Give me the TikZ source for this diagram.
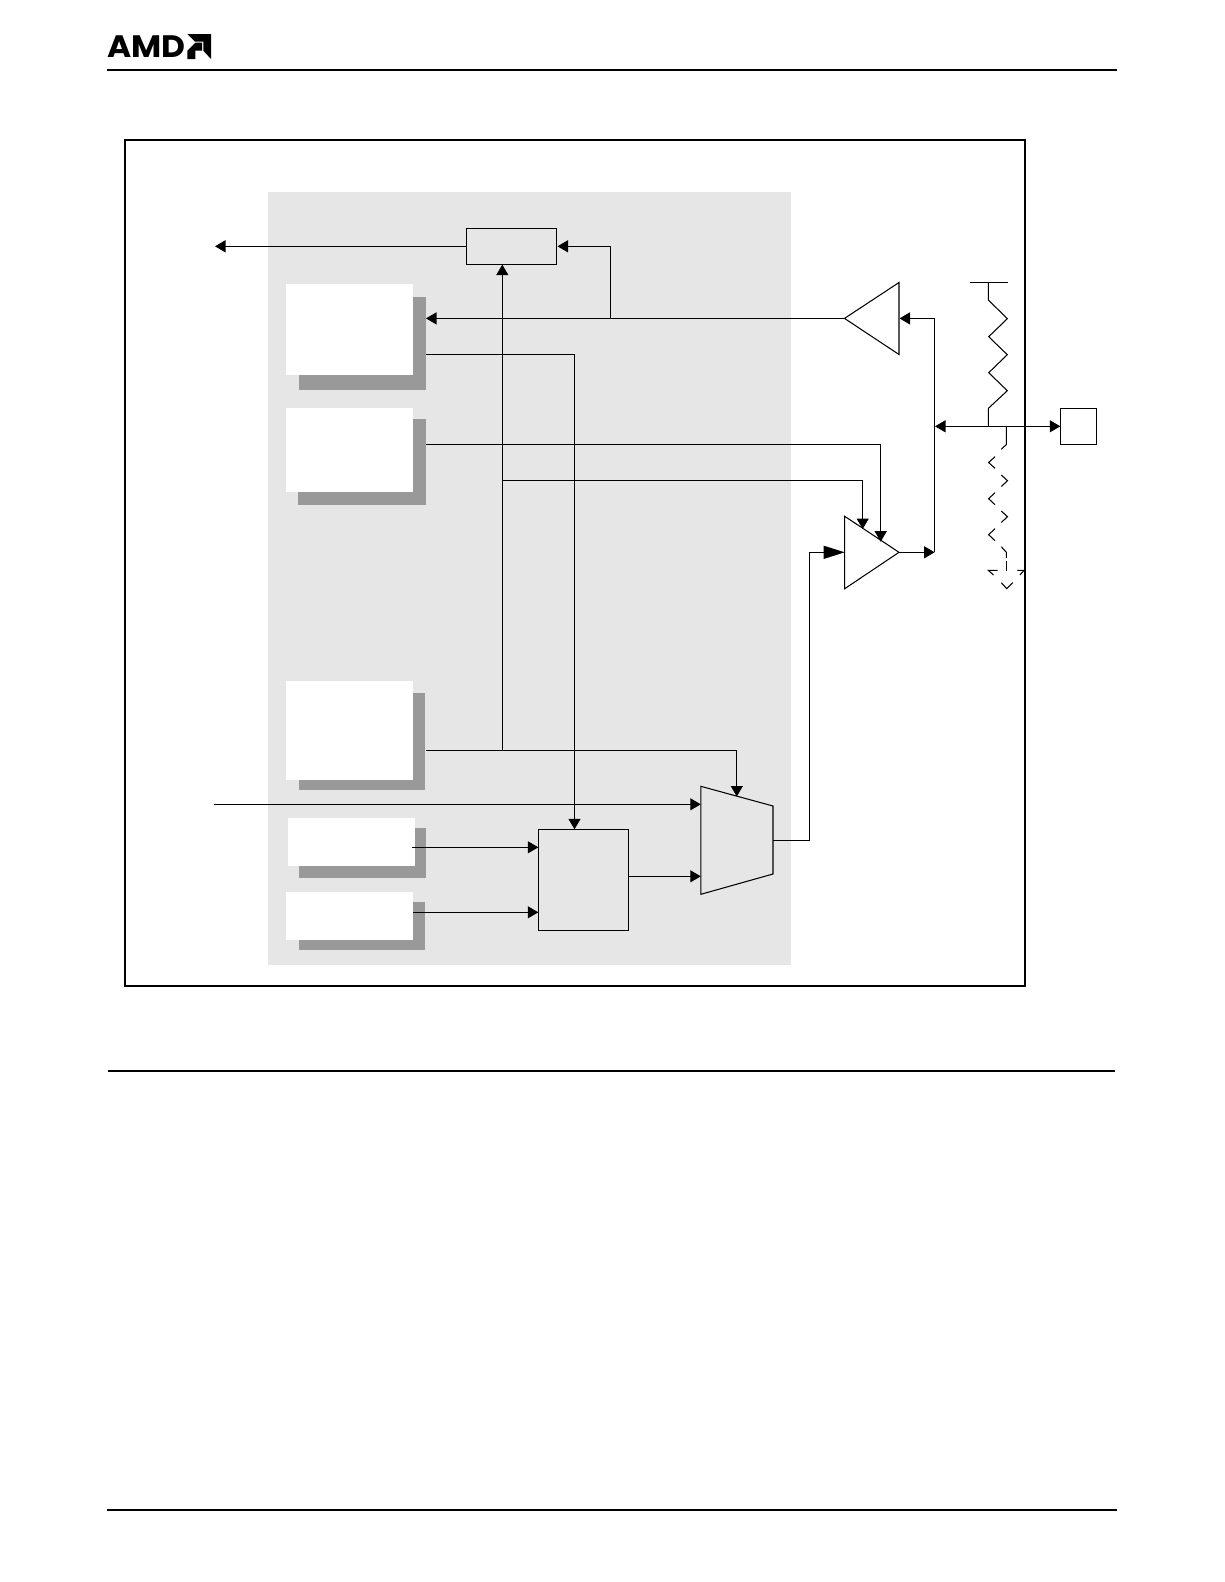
\documentclass[tikz,border=0pt]{standalone}
\usepackage{fontspec}
\setmainfont{Liberation Sans}
\newfontfamily\logofont[BoldFont={Poppins Bold}]{Poppins}
\usetikzlibrary{arrows.meta}
\definecolor{panelgray}{RGB}{230,230,230}
\definecolor{shadowgray}{RGB}{153,153,153}
\tikzset{
  rule/.style={draw=black,line width=2pt},
  frame/.style={draw=black,line width=2pt},
  wire/.style={draw=black,line width=1.05pt},
  arr/.style={wire,-{Triangle[length=10.5pt,width=12pt]}},
  biarr/.style={wire,{Triangle[length=10.5pt,width=12pt]}-{Triangle[length=10.5pt,width=12pt]}},
  bigarr/.style={wire,-{Triangle[length=21pt,width=13pt]}},
  boxed/.style={draw=black,line width=1.05pt,inner sep=0pt,outer sep=0pt},
}
\begin{document}
\begin{tikzpicture}[x=1pt,y=-1pt]
\useasboundingbox (0,0) rectangle (1224,1582);
\fill[white] (0,0) rectangle (1224,1582);

% page furniture
\node[anchor=west,inner sep=0pt,outer sep=0pt] (amd) at (107.5,46.7)
  {\scalebox{1.06}[1]{\logofont\fontsize{31}{31}\selectfont\bfseries AMD}};
\fill[black] (187.3,34)--(211,34)--(211,59)--(203.3,50.7)--(203.3,41.7)--(195,41.7)--cycle;
\fill[black] (187.3,50.7)--(195.3,42.7)--(202,42.7)--(202,50.7)--(195.3,50.7)--(195.3,59)--(187.3,59)--cycle;
\coordinate (r1a) at (107,70); \coordinate (r1b) at (1117,70);
\draw[rule] (r1a)--(r1b);
\coordinate (r2a) at (108,1071); \coordinate (r2b) at (1115,1071);
\draw[rule] (r2a)--(r2b);
\coordinate (r3a) at (107,1510); \coordinate (r3b) at (1117,1510);
\draw[rule] (r3a)--(r3b);

% outer frame and panel
\draw[frame] (125,139.5) rectangle (1025,986);
\fill[panelgray] (268,192) rectangle (791,965);

% shadowed blocks
\fill[shadowgray] (299,297) rectangle (426,390);
\fill[white] (286,284) rectangle (413,375);
\fill[shadowgray] (298,419) rectangle (426,505);
\fill[white] (286,408) rectangle (413,492);
\fill[shadowgray] (299,693) rectangle (425,790);
\fill[white] (286,681) rectangle (413,780);
\fill[shadowgray] (299,828) rectangle (426,878);
\fill[white] (288,818) rectangle (415,866);
\fill[shadowgray] (299,902) rectangle (425,950);
\fill[white] (286,892) rectangle (413,940);

% boxes
\node[boxed,minimum width=90.4pt,minimum height=36pt] (latch) at (511.5,246.3) {};
\node[boxed,minimum width=90.2pt,minimum height=101pt] (sel) at (583.4,879.8) {};
\node[boxed,minimum width=36.4pt,minimum height=36pt] (pad) at (1078.5,426.3) {};

% mux and buffers
\coordinate (muxtl) at (700.8,786.3);
\coordinate (muxtr) at (773,806);
\coordinate (muxbr) at (773,874);
\coordinate (muxbl) at (700.8,894.3);
\draw[wire,line join=miter] (muxtl)--(muxtr)--(muxbr)--(muxbl)--cycle;
\coordinate (outt) at (844.7,516.3);
\coordinate (outb) at (844.7,588.7);
\coordinate (outtip) at (899,552.3);
\draw[wire] (outt)--(outtip)--(outb)--cycle;
\coordinate (intip) at (844.5,318.4);
\coordinate (intt) at (899,282.5);
\coordinate (intb) at (899,354.5);
\draw[wire] (intip)--(intt)--(intb)--cycle;

% named wire points
\coordinate (ext) at (215,246.3);
\coordinate (latchW) at (467,246.3);
\coordinate (latchE) at (557.5,246.3);
\coordinate (latchS) at (502.3,264.6);
\coordinate (tapI) at (610.5,246.3);
\coordinate (tapJ) at (610.5,318.4);
\coordinate (b1in) at (426,318.4);
\coordinate (b1out) at (426,354.3);
\coordinate (b1turn) at (574.5,354.3);
\coordinate (selN) at (574.5,829.3);
\coordinate (b2out) at (426,444.3);
\coordinate (b2turn) at (880.7,444.3);
\coordinate (outA) at (880.7,541.7);
\coordinate (jt) at (502.3,480.5);
\coordinate (jturn) at (862.7,480.5);
\coordinate (outB) at (862.7,529);
\coordinate (b3out) at (426,750.3);
\coordinate (jb) at (502.3,750.3);
\coordinate (b3turn) at (736.8,750.3);
\coordinate (muxN) at (736.8,796.5);
\coordinate (inL) at (214,804.3);
\coordinate (inM) at (700.8,804.3);
\coordinate (b4out) at (412,847.3);
\coordinate (selA) at (538.3,847.3);
\coordinate (b5out) at (413,912.3);
\coordinate (selB) at (538.3,912.3);
\coordinate (selE) at (628.5,876.3);
\coordinate (muxB) at (700.8,876.3);
\coordinate (muxE) at (773,840.3);
\coordinate (m1) at (809.5,840.3);
\coordinate (m2) at (809.5,552.3);
\coordinate (outW) at (844.7,552.3);
\coordinate (busb) at (934.6,552.3);
\coordinate (bust) at (934.6,318.4);
\coordinate (intE) at (899.5,318.4);
\coordinate (node) at (935,426.3);
\coordinate (padW) at (1060.3,426.3);

% connectors
\draw[arr] (latchW)--(ext);
\draw[arr] (tapJ)--(tapI)--(latchE);
\draw[arr] (intip)--(b1in);
\draw[arr] (jb)--(latchS);
\draw[arr] (b1out)--(b1turn)--(selN);
\draw[arr] (b2out)--(b2turn)--(outA);
\draw[arr] (jt)--(jturn)--(outB);
\draw[arr] (b3out)--(b3turn)--(muxN);
\draw[arr] (inL)--(inM);
\draw[arr] (b4out)--(selA);
\draw[arr] (b5out)--(selB);
\draw[arr] (selE)--(muxB);
\draw[bigarr] (muxE)--(m1)--(m2)--(outW);
\draw[arr] (outtip)--(busb);
\draw[arr] (busb)--(bust)--(intE);
\draw[biarr] (node)--(padW);

% pull-up
\coordinate (vddL) at (970,282.3);
\coordinate (vddR) at (1008,282.3);
\coordinate (vddM) at (988.4,282.3);
\coordinate (rtop) at (988.4,426.3);
\draw[wire] (vddL)--(vddR);
\draw[wire,line join=miter] (vddM)--(988.4,300)--(1007.3,318.7)--(988.7,336.7)--(1007.3,354.7)--(988.7,372.7)--(1007.3,390.7)--(988.4,408.3)--(rtop);

% dashed pull-down
\draw[wire] (1006.3,426.3)--(1006.3,444.5)--(1001.3,449.3);
\draw[wire] (995,456.7)--(988.6,462.5)--(995,468.3);
\draw[wire] (1001.3,475)--(1007.5,480.7)--(1001.3,486.5);
\draw[wire] (995,492.7)--(988.6,498.7)--(995,504.7);
\draw[wire] (1001.3,511)--(1007.5,516.7)--(1001.3,522.5);
\draw[wire] (995,528.7)--(988.6,534.7)--(995,540.7);
\draw[wire] (1001.3,546.7)--(1006.3,552.3)--(1006.3,558);
\draw[wire] (1006.3,561)--(1006.3,570.7);
\draw[wire] (993.5,575)--(988.3,570.3)--(997.7,570.3);
\draw[wire] (1017.3,570.3)--(1024,570.3)--(1020,575);
\draw[wire] (1001.3,582.7)--(1006.7,588.7)--(1012.7,582.7);
\end{tikzpicture}
\end{document}
